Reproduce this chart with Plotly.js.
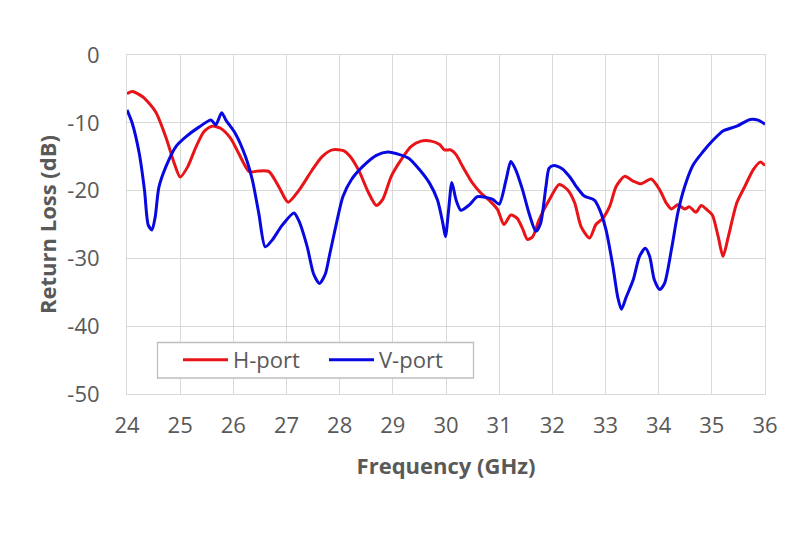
<!DOCTYPE html>
<html>
<head>
<meta charset="utf-8">
<script src="https://cdn.plot.ly/plotly-3.0.1.min.js"></script>
<style>html,body{margin:0;padding:0;background:#fff;}#chart{width:804px;height:540px;}</style>
</head>
<body>
<div id="chart"></div>
<script>
var freqH = [24,24.1,24.3,24.54,24.73,24.89,25.0,25.14,25.3,25.45,25.6,25.76,25.95,26.1,26.3,26.48,26.67,26.86,27.03,27.23,27.48,27.67,27.86,28.07,28.19,28.37,28.53,28.69,28.81,28.97,29.16,29.34,29.53,29.72,29.88,29.97,30.09,30.19,30.31,30.5,30.66,30.81,30.97,31.09,31.22,31.34,31.44,31.53,31.63,31.75,31.94,32.13,32.29,32.42,32.54,32.7,32.82,32.95,33.08,33.2,33.36,33.52,33.67,33.86,34.02,34.14,34.24,34.36,34.49,34.58,34.7,34.8,34.92,35.01,35.12,35.21,35.31,35.47,35.62,35.78,35.91,36];
var lossH = [-5.7,-5.4,-6.2,-8.4,-12.1,-16,-18,-16.5,-13.5,-11.3,-10.5,-10.8,-12.3,-14.5,-17.2,-17.1,-17.2,-19.5,-21.7,-20,-17,-15,-14,-14.1,-14.9,-17.2,-20.1,-22.2,-21.3,-17.9,-15.4,-13.5,-12.7,-12.7,-13.2,-14,-14,-14.7,-16.4,-18.9,-20.4,-21.4,-22.8,-25,-23.6,-24.1,-25.6,-27.2,-26.8,-24.3,-21.4,-19.1,-19.9,-21.8,-25.3,-27,-25,-24.1,-22.3,-19.4,-17.9,-18.6,-19,-18.3,-19.9,-21.8,-22.7,-22.1,-22.7,-22.4,-23.2,-22.2,-22.9,-23.6,-26.8,-29.7,-26.8,-21.8,-19.4,-16.9,-15.8,-16.3];
var freqV = [24,24.1,24.23,24.33,24.4,24.47,24.53,24.6,24.73,24.92,25.1,25.36,25.58,25.67,25.78,25.86,26.04,26.23,26.36,26.48,26.6,26.73,26.92,27.14,27.23,27.39,27.51,27.62,27.73,27.81,27.94,28.06,28.22,28.44,28.69,28.91,29.13,29.31,29.5,29.69,29.84,29.94,29.99,30.05,30.11,30.19,30.28,30.44,30.59,30.75,30.88,31,31.13,31.22,31.31,31.44,31.56,31.69,31.78,31.88,31.94,32.03,32.19,32.34,32.45,32.6,32.79,32.89,33.01,33.14,33.23,33.3,33.39,33.52,33.64,33.75,33.83,33.92,34.02,34.11,34.24,34.36,34.49,34.65,34.84,35.03,35.21,35.47,35.72,35.87,36];
var lossV = [-8.1,-10.1,-14.5,-20,-25.1,-25.8,-23.9,-19.5,-16.5,-13.5,-12.1,-10.6,-9.6,-10.3,-8.5,-9.6,-11.6,-15,-18.5,-23.4,-28.3,-27.3,-25.1,-23.3,-24.4,-28.3,-32.3,-33.7,-32.3,-29.5,-24.8,-20.9,-18.4,-16.4,-14.8,-14.3,-14.7,-15.3,-16.9,-18.9,-21.4,-24.8,-26.8,-22.8,-18.8,-21.4,-22.9,-22.1,-20.9,-21,-21.3,-22,-18.4,-15.7,-16.9,-19.9,-23.3,-26,-24.8,-19.4,-16.7,-16.3,-16.8,-18.1,-19.4,-20.8,-21.4,-22.8,-25.8,-31.2,-35.7,-37.5,-35.7,-33.2,-29.7,-28.5,-29.7,-33.2,-34.6,-33.7,-28.7,-23.3,-19.4,-16.2,-14.2,-12.5,-11.2,-10.5,-9.5,-9.6,-10.2];
var seriesNames = ['H-port','V-port'];
var xTickVals = [24,25,26,27,28,29,30,31,32,33,34,35,36];
var yTickVals = [0,-10,-20,-30,-40,-50];

var FONT = '"Open Sans", "Noto Sans", sans-serif';
var traces = [
  {x: freqH, y: lossH, name: seriesNames[0], type: 'scatter', mode: 'lines',
   line: {color: 'rgb(232,20,24)', width: 3, shape: 'spline', smoothing: 0.7}},
  {x: freqV, y: lossV, name: seriesNames[1], type: 'scatter', mode: 'lines',
   line: {color: 'rgb(8,8,224)', width: 3, shape: 'spline', smoothing: 0.7}}
];
var layout = {
  width: 804, height: 540,
  margin: {l: 127, r: 39, t: 55, b: 146},
  paper_bgcolor: '#fff', plot_bgcolor: '#fff',
  font: {family: FONT, color: '#595959', size: 22},
  xaxis: {
    range: [24, 36], tickvals: xTickVals, ticktext: xTickVals.map(String),
    showgrid: true, gridcolor: '#d9d9d9', gridwidth: 1,
    showline: true, linecolor: '#d9d9d9', linewidth: 1, mirror: true,
    zeroline: false, ticks: '', ticklabelstandoff: 12,
    tickfont: {family: FONT, size: 22, color: '#595959'},
    title: {text: '<b>Frequency (GHz)</b>', font: {family: FONT, size: 22, color: '#595959'}, standoff: 20}
  },
  yaxis: {
    range: [-50, 0], tickvals: yTickVals, ticktext: yTickVals.map(String),
    showgrid: true, gridcolor: '#d9d9d9', gridwidth: 1,
    showline: true, linecolor: '#d9d9d9', linewidth: 1, mirror: true,
    zeroline: false, ticks: '', ticklabelstandoff: 22,
    tickfont: {family: FONT, size: 22, color: '#595959'},
    title: {text: '<b>Return Loss (dB)</b>', font: {family: FONT, size: 22, color: '#595959'}, standoff: 4}
  },
  shapes: [{
    type: 'rect', xref: 'paper', yref: 'paper', layer: 'above',
    x0: (157.5 - 127) / 638, x1: (473.5 - 127) / 638,
    y0: (394 - 378) / 339, y1: (394 - 342.5) / 339,
    fillcolor: '#ffffff', line: {color: '#bfbfbf', width: 1.3}
  }],
  showlegend: true,
  legend: {
    orientation: 'h', x: (178 - 127) / 638, y: (394 - 360) / 339, xanchor: 'left', yanchor: 'middle',
    bgcolor: 'rgba(0,0,0,0)', borderwidth: 0,
    font: {family: FONT, size: 22, color: '#595959'},
    itemwidth: 45, entrywidth: 86, entrywidthmode: 'pixels'
  }
};
Plotly.newPlot('chart', traces, layout, {displayModeBar: false, staticPlot: true});
</script>
</body>
</html>
